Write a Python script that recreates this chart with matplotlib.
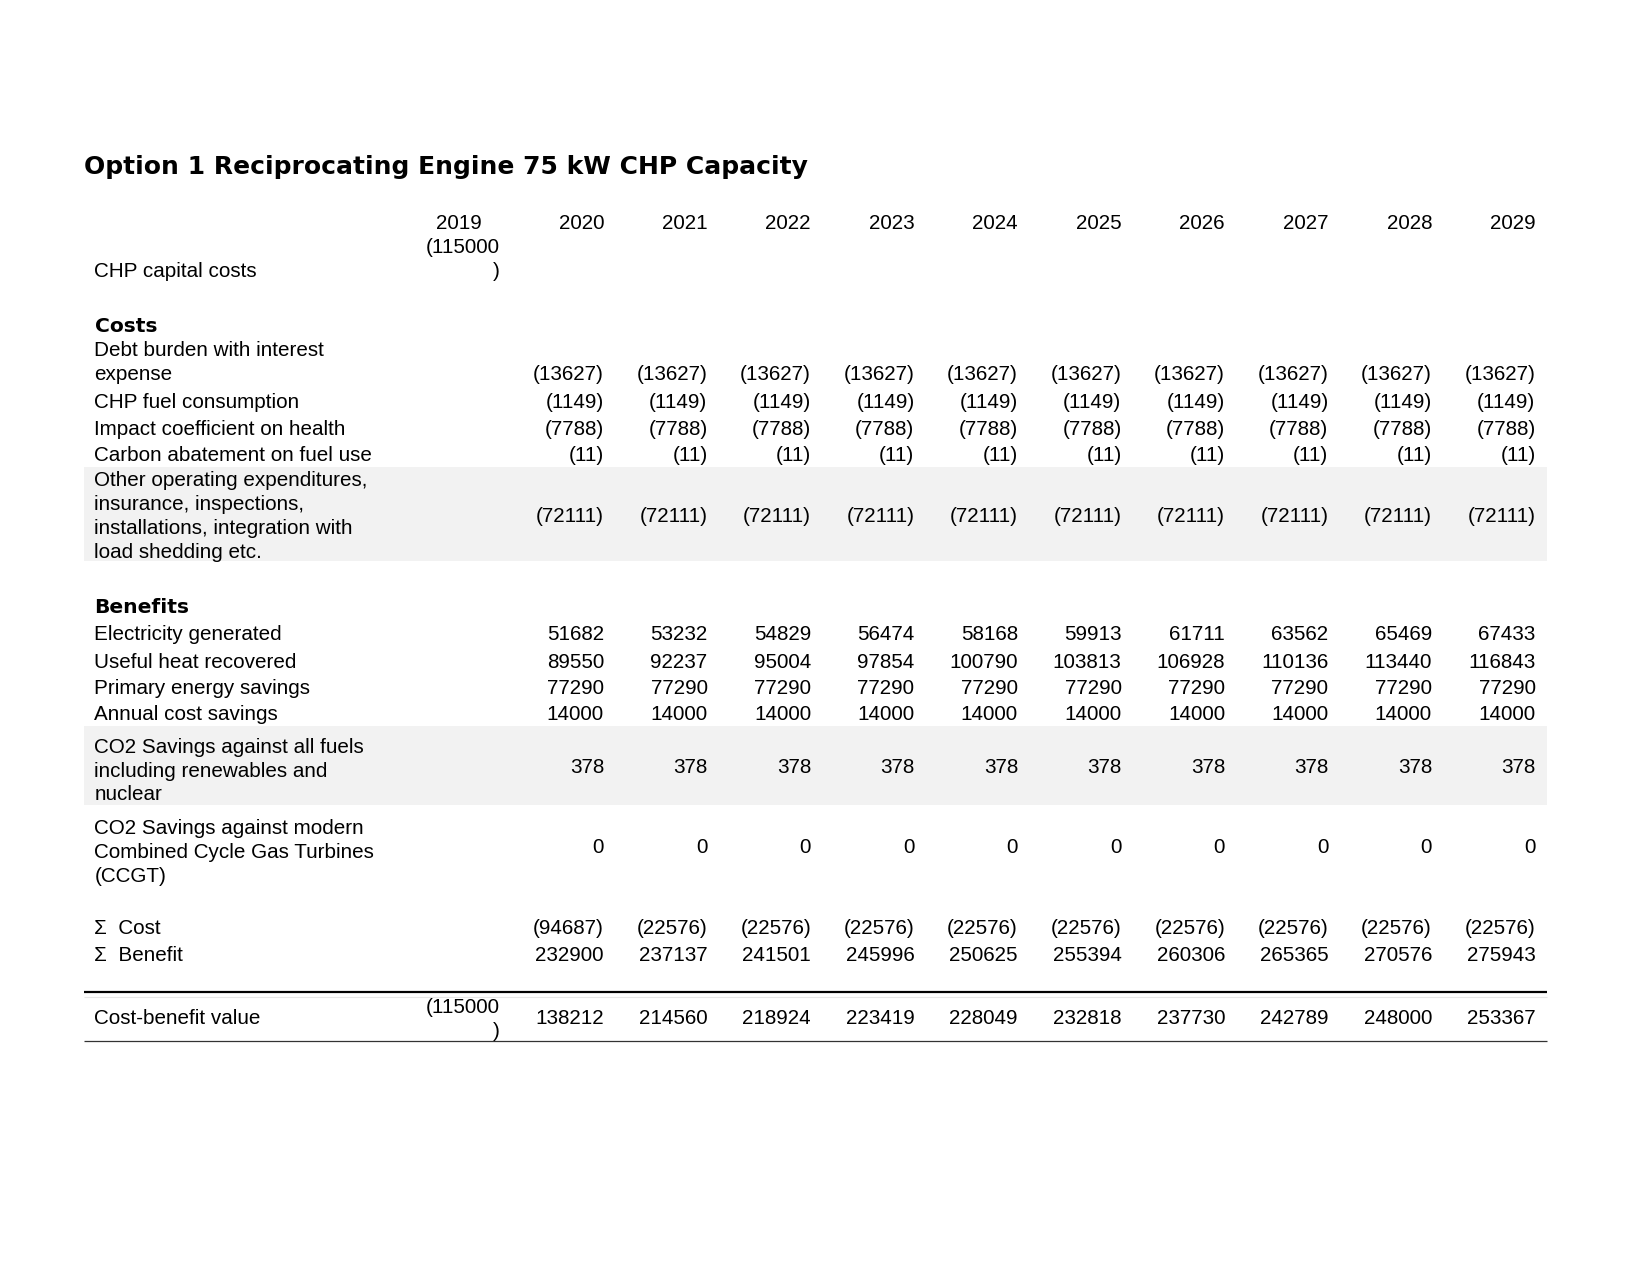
import matplotlib
matplotlib.use("Agg")
import matplotlib.pyplot as plt
from matplotlib.patches import Rectangle

# ---------------- data ----------------
title = "Option 1 Reciprocating Engine 75 kW CHP Capacity"
years = [2019, 2020, 2021, 2022, 2023, 2024, 2025, 2026, 2027, 2028, 2029]
capital_label = "CHP capital costs"
capital_2019 = -115000

cost_labels = [
    "Debt burden with interest\nexpense",
    "CHP fuel consumption",
    "Impact coefficient on health",
    "Carbon abatement on fuel use",
    "Other operating expenditures,\ninsurance, inspections,\ninstallations, integration with\nload shedding etc.",
]
debt_burden = [-13627, -13627, -13627, -13627, -13627, -13627, -13627, -13627, -13627, -13627]
fuel_consumption = [-1149, -1149, -1149, -1149, -1149, -1149, -1149, -1149, -1149, -1149]
health_impact = [-7788, -7788, -7788, -7788, -7788, -7788, -7788, -7788, -7788, -7788]
carbon_abatement = [-11, -11, -11, -11, -11, -11, -11, -11, -11, -11]
other_opex = [-72111, -72111, -72111, -72111, -72111, -72111, -72111, -72111, -72111, -72111]

benefit_labels = [
    "Electricity generated",
    "Useful heat recovered",
    "Primary energy savings",
    "Annual cost savings",
    "CO2 Savings against all fuels\nincluding renewables and\nnuclear",
    "CO2 Savings against modern\nCombined Cycle Gas Turbines\n(CCGT)",
]
electricity = [51682, 53232, 54829, 56474, 58168, 59913, 61711, 63562, 65469, 67433]
useful_heat = [89550, 92237, 95004, 97854, 100790, 103813, 106928, 110136, 113440, 116843]
primary_energy = [77290, 77290, 77290, 77290, 77290, 77290, 77290, 77290, 77290, 77290]
annual_savings = [14000, 14000, 14000, 14000, 14000, 14000, 14000, 14000, 14000, 14000]
co2_all = [378, 378, 378, 378, 378, 378, 378, 378, 378, 378]
co2_ccgt = [0, 0, 0, 0, 0, 0, 0, 0, 0, 0]

sum_cost = [-94687, -22576, -22576, -22576, -22576, -22576, -22576, -22576, -22576, -22576]
sum_benefit = [232900, 237137, 241501, 245996, 250625, 255394, 260306, 265365, 270576, 275943]
cb_label = "Cost-benefit value"
cb_2019 = -115000
cost_benefit = [138212, 214560, 218924, 223419, 228049, 232818, 237730, 242789, 248000, 253367]


def fmt(v):
    return f"({abs(v)})" if v < 0 else f"{v}"


# ---------------- layout ----------------
W, H = 1650, 1275
fig = plt.figure(figsize=(16.5, 12.75), dpi=100)
ax = fig.add_axes([0, 0, 1, 1])
ax.set_xlim(0, W)
ax.set_ylim(H, 0)
ax.axis("off")

BODY = dict(family=["Liberation Sans", "DejaVu Sans"], fontsize=14.9, color="black")
BOLD = dict(family="DejaVu Sans", fontsize=14.6, fontweight="bold", color="black")

DY = 2.2  # optical offset for va='center'
label_x = 94.5
tbl_left, tbl_right = 84, 1547
col0_right = 500
col_right = [604 + i * 103.5 for i in range(10)]
line_h = 23.9


def txt(x, y, s, **kw):
    ax.text(x, y + DY, s, **kw)


txt(84, 165, title, family="DejaVu Sans", fontsize=18, fontweight="bold",
    va="center", ha="left")

# header
txt(459, 221, str(years[0]), ha="center", va="center", **BODY)
for x, y in zip(col_right, years[1:]):
    txt(x, 221, str(y), ha="right", va="center", **BODY)

# capital costs row
txt(label_x, 269, capital_label, ha="left", va="center", **BODY)
s = fmt(capital_2019)
txt(col0_right, 245, s[:-1], ha="right", va="center", **BODY)
txt(col0_right, 269, s[-1], ha="right", va="center", **BODY)


def draw_row(label, values, y_center, shade=None, top=None):
    lines = label.split("\n")
    n = len(lines)
    if shade is not None:
        ax.add_patch(Rectangle((tbl_left, shade[0]), tbl_right - tbl_left,
                               shade[1] - shade[0], facecolor="#f2f2f2",
                               edgecolor="none", zorder=0))
    if top is None:
        top = y_center - (n - 1) * line_h / 2
    for i, ln in enumerate(lines):
        txt(label_x, top + i * line_h, ln, ha="left", va="center", **BODY)
    for x, v in zip(col_right, values):
        txt(x, y_center, fmt(v), ha="right", va="center", **BODY)


txt(label_x, 324, "Costs", ha="left", va="center", **BOLD)
draw_row(cost_labels[0], debt_burden, 372.5, top=348.5)
draw_row(cost_labels[1], fuel_consumption, 400)
draw_row(cost_labels[2], health_impact, 427)
draw_row(cost_labels[3], carbon_abatement, 453.5)
draw_row(cost_labels[4], other_opex, 514.6, shade=(467, 561))

txt(label_x, 605, "Benefits", ha="left", va="center", **BOLD)
draw_row(benefit_labels[0], electricity, 632.4)
draw_row(benefit_labels[1], useful_heat, 660)
draw_row(benefit_labels[2], primary_energy, 686)
draw_row(benefit_labels[3], annual_savings, 712.4)
draw_row(benefit_labels[4], co2_all, 765, shade=(726, 805), top=745)
draw_row(benefit_labels[5], co2_ccgt, 845, top=826)

draw_row("Σ  Cost", sum_cost, 926)
draw_row("Σ  Benefit", sum_benefit, 953.4)

# cost-benefit row
ax.plot([tbl_left, tbl_right], [992, 992], color="black", lw=1.6, solid_capstyle="butt")
ax.plot([tbl_left, tbl_right], [996.5, 996.5], color="#e6e6e6", lw=0.8, solid_capstyle="butt")
ax.plot([tbl_left, tbl_right], [1040.7, 1040.7], color="#333333", lw=0.9, solid_capstyle="butt")
txt(label_x, 1016.5, cb_label, ha="left", va="center", **BODY)
s = fmt(cb_2019)
txt(col0_right, 1005, s[:-1], ha="right", va="center", **BODY)
txt(col0_right, 1029, s[-1], ha="right", va="center", **BODY)
for x, v in zip(col_right, cost_benefit):
    txt(x, 1016.5, fmt(v), ha="right", va="center", **BODY)

fig.savefig("out.png", dpi=100, facecolor="white")
